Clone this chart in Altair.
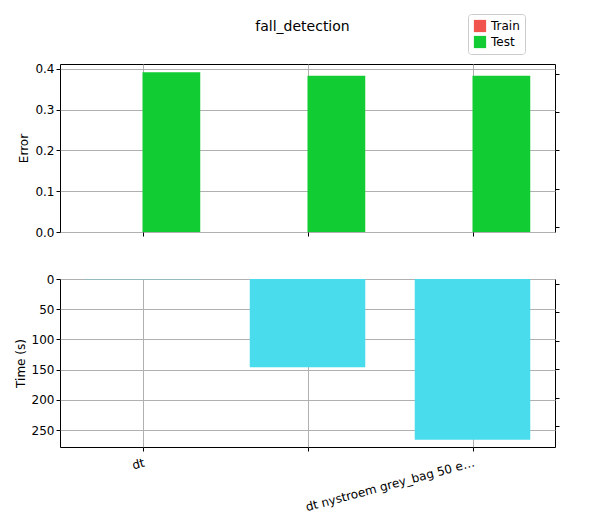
import altair as alt
import pandas as pd

cats = ["dt", "dt rff grey_bag 50 estims.", "dt nystroem grey_bag 50 estims."]
train_err = [0.0, 0.0, 0.0]
test_err = [0.392, 0.383, 0.383]
times = [0.3, 146, 266]

pos = [0, 1, 2]
rows = []
for p, tr, te in zip(pos, train_err, test_err):
    rows.append(dict(p=p, x0=p - 0.35, x1=p, v=tr, s="Train"))
    rows.append(dict(p=p, x0=p, x1=p + 0.35, v=te, s="Test"))
err = pd.DataFrame(rows)
tm = pd.DataFrame(dict(p=pos, x0=[p - 0.35 for p in pos], x1=[p + 0.35 for p in pos], v=times))

W, H = 495, 168
FONT = "DejaVu Sans"
labexpr = "datum.value==0?'dt':datum.value==1?'dt rff grey_bag 50 estims.':'dt nystroem grey_bag 50 estims.'"

xscale = alt.Scale(domain=[-0.5, 2.5], nice=False, zero=False)

def xax(labels):
    return alt.Axis(values=pos, labelExpr=labexpr, labels=labels, title=None, grid=True,
                    gridColor="#b0b0b0", tickColor="black", domain=False, labelAngle=-15 if labels else 0,
                    labelFontSize=12, labelColor="black", tickSize=4, labelPadding=6)

VIEW = alt.ViewConfig(stroke="black", strokeWidth=1)

top_bars = alt.Chart(err).mark_bar().encode(
    x=alt.X("x0:Q", scale=xscale, axis=xax(False)),
    x2="x1",
    y=alt.Y("v:Q", scale=alt.Scale(domain=[0, 0.412], nice=False),
            axis=alt.Axis(values=[0, 0.1, 0.2, 0.3, 0.4], format=".1f", title="Error", grid=True,
                          gridColor="#b0b0b0", domain=False, tickColor="black", labelFontSize=12,
                          titleFontSize=12, titleFontWeight="normal", labelColor="black", tickSize=4)),
    y2=alt.datum(0),
    color=alt.Color("s:N", scale=alt.Scale(domain=["Train", "Test"], range=["#f0544c", "#11cc33"]),
                    legend=alt.Legend(title=None, orient="none", legendX=408, legendY=-50,
                                      symbolType="square", symbolSize=150, labelFontSize=12,
                                      strokeColor="#cccccc", padding=5, fillColor="white",
                                      cornerRadius=3, labelFont=FONT)),
)
title_txt = alt.Chart(pd.DataFrame({"t": ["fall_detection"]})).mark_text(
    fontSize=14, font=FONT, color="black").encode(
    text="t:N", x=alt.value(W / 2 - 5), y=alt.value(-37))
top_right = alt.Chart(err).mark_bar(opacity=0).encode(
    y=alt.Y("v:Q", scale=alt.Scale(domain=[0, 0.412], nice=False),
            axis=alt.Axis(orient="right", values=[0, 0.1, 0.2, 0.3, 0.4], labels=False, title=None,
                          grid=False, domain=False, tickColor="black", tickSize=4)),
    x=alt.X("x0:Q", scale=xscale, axis=xax(False)), x2="x1",
)
top = alt.layer(top_bars, top_right, title_txt).resolve_scale(y="independent").properties(width=W, height=H, view=VIEW)

yt = alt.Scale(domain=[0, 278], nice=False, reverse=True)
bot_bars = alt.Chart(tm).mark_bar(color="#48dcec").encode(
    x=alt.X("x0:Q", scale=xscale, axis=xax(True)),
    x2="x1",
    y=alt.Y("v:Q", scale=yt,
            axis=alt.Axis(values=[0, 50, 100, 150, 200, 250], title="Time (s)", grid=True,
                          gridColor="#b0b0b0", domain=False, tickColor="black", labelFontSize=12,
                          titleFontSize=12, titleFontWeight="normal", labelColor="black", tickSize=4)),
    y2=alt.datum(0),
)
bot_right = alt.Chart(tm).mark_bar(opacity=0).encode(
    x=alt.X("x0:Q", scale=xscale, axis=xax(True)), x2="x1",
    y=alt.Y("v:Q", scale=yt,
            axis=alt.Axis(orient="right", values=[0, 50, 100, 150, 200, 250], labels=False, title=None,
                          grid=False, domain=False, tickColor="black", tickSize=4)),
)
bot = alt.layer(bot_bars, bot_right).resolve_scale(y="independent").properties(width=W, height=H, view=VIEW)

chart = alt.vconcat(top, bot, spacing=33).configure_view(stroke="black", strokeWidth=1).configure(
    font=FONT).configure_axis(labelFont=FONT, titleFont=FONT)

chart.save("out.html", embed_options={"renderer": "svg", "actions": False})
